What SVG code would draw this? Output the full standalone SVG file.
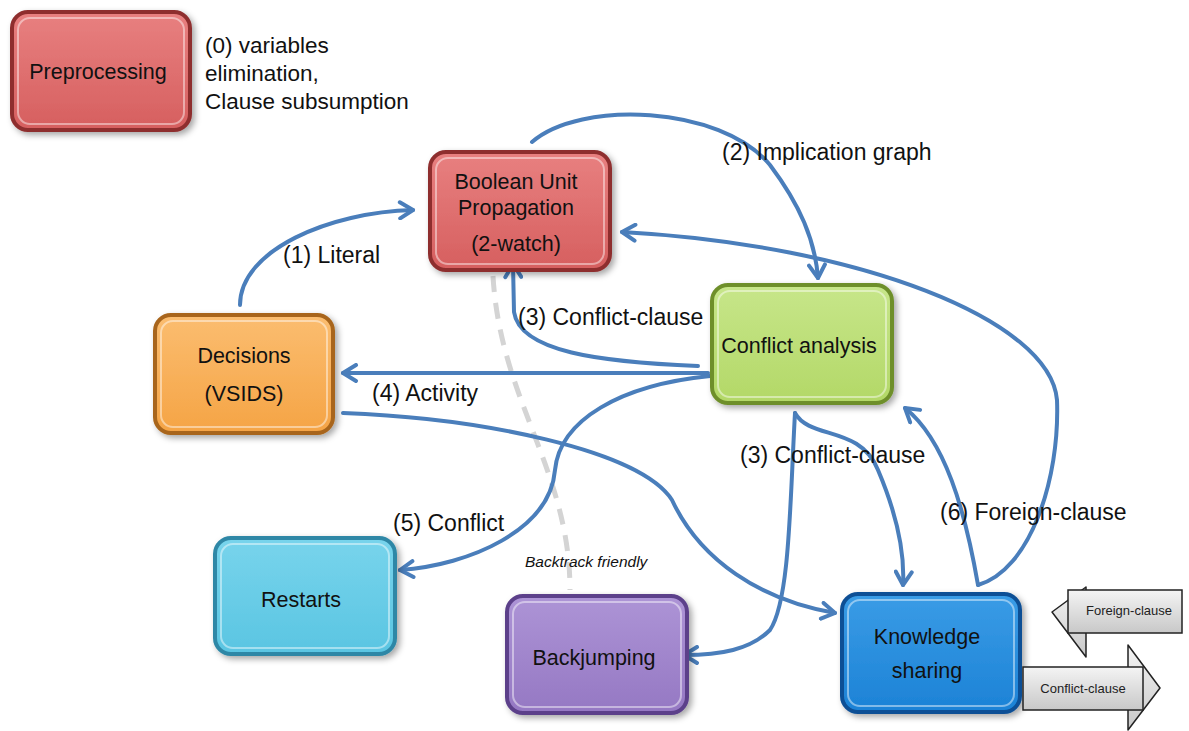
<svg xmlns="http://www.w3.org/2000/svg" width="1189" height="731" viewBox="0 0 1189 731">
<style>
.node text{font-family:"Liberation Sans",Arial,sans-serif;font-size:21.5px;fill:#111;text-anchor:middle}
.lbl{font-family:"Liberation Sans",Arial,sans-serif;font-size:23px;fill:#111}
.small{font-family:"Liberation Sans",Arial,sans-serif;font-size:13px;fill:#222;text-anchor:middle}
.conn path{fill:none;stroke:#4a7ebb;stroke-width:4;stroke-linecap:round}
.outer{stroke-width:4}
.inner{fill:none;stroke:#ffffff;stroke-opacity:0.45;stroke-width:2}
</style>
<defs>
<filter id="sh" x="-20%" y="-20%" width="140%" height="140%">
<feDropShadow dx="3" dy="3" stdDeviation="3" flood-color="#000" flood-opacity="0.35"/>
</filter>
<marker id="ah" viewBox="0 0 20 20" refX="17" refY="10" markerWidth="20" markerHeight="20" markerUnits="userSpaceOnUse" orient="auto">
<path d="M4,2 L17,10 L4,18" fill="none" stroke="#4a7ebb" stroke-width="4" stroke-linecap="round" stroke-linejoin="round"/>
</marker>
<linearGradient id="gRed" x1="0" y1="0" x2="0" y2="1"><stop offset="0" stop-color="#e88080"/><stop offset="1" stop-color="#d65f5f"/></linearGradient>
<linearGradient id="gGreen" x1="0" y1="0" x2="0" y2="1"><stop offset="0" stop-color="#c7e68a"/><stop offset="1" stop-color="#b3d867"/></linearGradient>
<linearGradient id="gOrange" x1="0" y1="0" x2="0" y2="1"><stop offset="0" stop-color="#fbbd70"/><stop offset="1" stop-color="#f5a445"/></linearGradient>
<linearGradient id="gCyan" x1="0" y1="0" x2="0" y2="1"><stop offset="0" stop-color="#78d4ec"/><stop offset="1" stop-color="#5ac5e2"/></linearGradient>
<linearGradient id="gPurple" x1="0" y1="0" x2="0" y2="1"><stop offset="0" stop-color="#ad94d6"/><stop offset="1" stop-color="#9578c3"/></linearGradient>
<linearGradient id="gBlue" x1="0" y1="0" x2="0" y2="1"><stop offset="0" stop-color="#3a9ce6"/><stop offset="1" stop-color="#1c82d6"/></linearGradient>
<linearGradient id="gGray" x1="0" y1="0" x2="0" y2="1"><stop offset="0" stop-color="#f4f4f4"/><stop offset="1" stop-color="#c8c8c8"/></linearGradient>
</defs>
<rect width="1189" height="731" fill="#ffffff"/>

<g id="connectors" class="conn">
<path d="M493,276 C500,400 570,470 570,590" style="stroke:#d4d4d4;stroke-width:5;stroke-dasharray:16 11;stroke-linecap:butt"/>
<path d="M240,305 C240,250 330,212 413,210" marker-end="url(#ah)"/>
<path d="M532,142 C580,100 720,105 770,165 C800,205 815,240 818,278" marker-end="url(#ah)"/>
<path d="M978,585 C1030,570 1060,480 1057,400 C1050,320 860,245 622,232" marker-end="url(#ah)"/>
<path d="M978,585 C965,510 945,440 905,408" marker-end="url(#ah)"/>
<path d="M698,366 C600,362 520,352 514,312 L513,264" marker-end="url(#ah)"/>
<path d="M708,373 L343,373" marker-end="url(#ah)"/>
<path d="M343,413 C480,418 640,450 672,500 C700,560 760,600 835,613" marker-end="url(#ah)"/>
<path d="M710,376 C620,385 560,420 555,470 C550,530 470,565 400,570" marker-end="url(#ah)"/>
<path d="M795,413 C810,440 860,425 878,470 C895,510 905,550 903,585" marker-end="url(#ah)"/>
<path d="M795,413 C790,500 790,600 770,630 C750,650 720,655 684,655" marker-end="url(#ah)"/>
</g>

<g id="labels">
<text class="lbl" x="205" y="53" style="font-size:22.5px">(0) variables</text>
<text class="lbl" x="205" y="81" style="font-size:22.5px">elimination,</text>
<text class="lbl" x="205" y="109" style="font-size:22.5px">Clause subsumption</text>
<text class="lbl" x="283" y="263">(1) Literal</text>
<text class="lbl" x="722" y="160">(2) Implication graph</text>
<text class="lbl" x="518" y="325">(3) Conflict-clause</text>
<text class="lbl" x="372" y="401">(4) Activity</text>
<text class="lbl" x="740" y="463">(3) Conflict-clause</text>
<text class="lbl" x="393" y="531">(5) Conflict</text>
<text class="lbl" x="940" y="520">(6) Foreign-clause</text>
<text class="lbl" x="525" y="567" style="font-size:15.5px;font-style:italic">Backtrack friendly</text>
</g>

<g id="preprocessing" class="node">
<rect class="outer" x="12" y="12" width="178" height="118" rx="16" fill="url(#gRed)" stroke="#8e2f2f" filter="url(#sh)"/>
<rect class="inner" x="18" y="18" width="166" height="106" rx="12"/>
<text x="98" y="79">Preprocessing</text>
</g>

<g id="bup" class="node">
<rect class="outer" x="430" y="152" width="180" height="118" rx="16" fill="url(#gRed)" stroke="#8e2f2f" filter="url(#sh)"/>
<rect class="inner" x="436" y="158" width="168" height="106" rx="12"/>
<text x="516" y="189">Boolean Unit</text>
<text x="516" y="215">Propagation</text>
<text x="516" y="251">(2-watch)</text>
</g>

<g id="conflict-analysis" class="node">
<rect class="outer" x="712" y="285" width="180" height="118" rx="16" fill="url(#gGreen)" stroke="#6e8f2c" filter="url(#sh)"/>
<rect class="inner" x="718" y="291" width="168" height="106" rx="12"/>
<text x="799" y="353">Conflict analysis</text>
</g>

<g id="decisions" class="node">
<rect class="outer" x="155" y="315" width="178" height="118" rx="16" fill="url(#gOrange)" stroke="#a8651a" filter="url(#sh)"/>
<rect class="inner" x="161" y="321" width="166" height="106" rx="12"/>
<text x="244" y="363">Decisions</text>
<text x="244" y="401">(VSIDS)</text>
</g>

<g id="restarts" class="node">
<rect class="outer" x="215" y="538" width="180" height="116" rx="16" fill="url(#gCyan)" stroke="#2e87a6" filter="url(#sh)"/>
<rect class="inner" x="221" y="544" width="168" height="104" rx="12"/>
<text x="301" y="607">Restarts</text>
</g>

<g id="backjumping" class="node">
<rect class="outer" x="507" y="596" width="180" height="117" rx="16" fill="url(#gPurple)" stroke="#5b3f8a" filter="url(#sh)"/>
<rect class="inner" x="513" y="602" width="168" height="105" rx="12"/>
<text x="594" y="665">Backjumping</text>
</g>

<g id="knowledge-sharing" class="node">
<rect class="outer" x="842" y="594" width="178" height="118" rx="16" fill="url(#gBlue)" stroke="#0c4f95" filter="url(#sh)"/>
<rect class="inner" x="848" y="600" width="166" height="106" rx="12"/>
<text x="927" y="644">Knowledge</text>
<text x="927" y="678">sharing</text>
</g>

<g id="foreign-clause-arrow">
<polygon points="1086,587 1052,612 1086,657" fill="url(#gGray)" stroke="#222" stroke-width="1.5" stroke-linejoin="round"/>
<rect x="1068" y="590" width="114" height="43" fill="url(#gGray)" stroke="#222" stroke-width="1.5"/>
<text class="small" x="1129" y="615">Foreign-clause</text>
</g>

<g id="conflict-clause-arrow">
<polygon points="1128,645 1160,688 1128,730" fill="url(#gGray)" stroke="#222" stroke-width="1.5" stroke-linejoin="round"/>
<rect x="1023" y="667" width="120" height="43" fill="url(#gGray)" stroke="#222" stroke-width="1.5"/>
<text class="small" x="1083" y="693">Conflict-clause</text>
</g>
</svg>
